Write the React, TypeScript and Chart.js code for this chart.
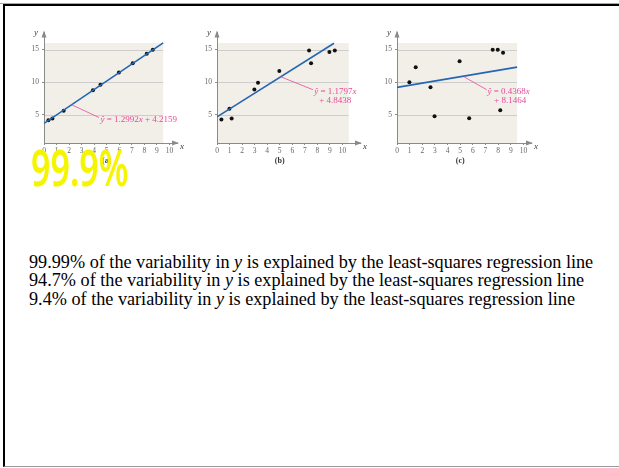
import React, { useEffect, useRef } from "react";
import { Chart, registerables } from "chart.js";

Chart.register(...registerables);

// ---------- data ----------
const xTickValues = [0, 1, 2, 3, 4, 5, 6, 7, 8, 9, 10];
const yTickValues = [5, 10, 15];

const pointsA = [
  { x: 0.35, y: 4.18 }, { x: 0.67, y: 4.43 }, { x: 1.57, y: 5.65 },
  { x: 3.9, y: 8.76 }, { x: 4.5, y: 9.6 }, { x: 5.97, y: 11.5 },
  { x: 7.07, y: 12.9 }, { x: 8.19, y: 14.35 }, { x: 8.67, y: 14.96 },
];
const lineA = [{ x: 0, y: 3.7 }, { x: 9.5, y: 16.0 }];
const equationA = ["ŷ = 1.2992x + 4.2159"];

const pointsB = [
  { x: 0.35, y: 4.3 }, { x: 0.99, y: 5.95 }, { x: 1.17, y: 4.44 },
  { x: 2.98, y: 8.88 }, { x: 3.27, y: 9.9 }, { x: 4.97, y: 11.7 },
  { x: 7.34, y: 14.85 }, { x: 7.5, y: 12.9 }, { x: 8.96, y: 14.6 },
  { x: 9.39, y: 14.85 },
];
const lineB = [{ x: 0, y: 4.7 }, { x: 9.33, y: 15.95 }];
const equationB = ["ŷ = 1.1797x", "+ 4.8438"];

const pointsC = [
  { x: 0.98, y: 10.0 }, { x: 1.48, y: 12.3 }, { x: 2.65, y: 9.24 },
  { x: 2.97, y: 4.8 }, { x: 4.95, y: 13.2 }, { x: 5.71, y: 4.5 },
  { x: 7.57, y: 14.95 }, { x: 7.97, y: 14.95 }, { x: 8.39, y: 14.5 },
  { x: 8.17, y: 5.7 },
];
const lineC = [{ x: 0, y: 9.2 }, { x: 9.5, y: 12.3 }];
const equationC = ["ŷ = 0.4368x", "+ 8.1464"];

const subLabels = ["(a)", "(b)", "(c)"];
const percentages = ["99.99%", "94.7%", "9.4%"];
const handNote = "99.9%";

// ---------- layout / style ----------
const Y_AXIS_W = 22;
const X_AXIS_H = 26;
const PAD_TOP = 6;
const PAD_RIGHT = 12;
const AREA_TOP = 31;
const AREA_BOTTOM = 143;
const Y_MIN = 0.7;
const Y_MAX = 17.6;
const BG_Y_MAX = 16;

const BG = "#f2efe9";
const GRID = "#cdcdcd";
const AXIS = "#8a8a8a";
const TICK = "#666666";
const PINK = "#e8489a";
const BLUE = "#2466b2";
const SERIF = "'Liberation Serif', 'Times New Roman', serif";

type Pt = { x: number; y: number };
type Panel = {
  originX: number;
  pxPerX: number;
  xMax: number;
  bgXMax: number;
  points: Pt[];
  line: Pt[];
  eq: string[];
  anchor: Pt;
  calloutEnd: Pt;
  textPos: Pt[];
  sub: string;
};

const panels: Panel[] = [
  {
    originX: 44, pxPerX: 12.55, xMax: 10.6, bgXMax: 9.5,
    points: pointsA, line: lineA, eq: equationA,
    anchor: { x: 2.2, y: 6.55 }, calloutEnd: { x: 4.38, y: 4.6 },
    textPos: [{ x: 4.5, y: 4.25 }], sub: subLabels[0],
  },
  {
    originX: 217, pxPerX: 12.54, xMax: 11.4, bgXMax: 10.5,
    points: pointsB, line: lineB, eq: equationB,
    anchor: { x: 5.05, y: 10.85 }, calloutEnd: { x: 7.65, y: 8.85 },
    textPos: [{ x: 7.75, y: 8.55 }, { x: 8.15, y: 7.15 }], sub: subLabels[1],
  },
  {
    originX: 397, pxPerX: 12.6, xMax: 10.6, bgXMax: 9.5,
    points: pointsC, line: lineC, eq: equationC,
    anchor: { x: 5.32, y: 10.8 }, calloutEnd: { x: 7.1, y: 8.85 },
    textPos: [{ x: 7.15, y: 8.55 }, { x: 7.68, y: 7.15 }], sub: subLabels[2],
  },
];

function drawRich(ctx: CanvasRenderingContext2D, text: string, x: number, y: number, size: number) {
  const parts = text.split(/(ŷ|x)/).filter((s) => s.length > 0);
  let cx = x;
  for (const p of parts) {
    const it = p === "ŷ" || p === "x";
    ctx.font = `${it ? "italic " : ""}${size}px ${SERIF}`;
    ctx.fillText(p, cx, y);
    cx += ctx.measureText(p).width;
  }
}

function makeDecor(p: Panel) {
  return {
    id: "decor",
    beforeDraw(chart: any) {
      const { ctx } = chart;
      const xs = chart.scales.x;
      const ys = chart.scales.y;
      const l = xs.getPixelForValue(0);
      const r = xs.getPixelForValue(p.bgXMax);
      const t = ys.getPixelForValue(BG_Y_MAX);
      const b = ys.getPixelForValue(Y_MIN);
      ctx.save();
      ctx.fillStyle = BG;
      ctx.fillRect(l, t, r - l, b - t);
      ctx.strokeStyle = GRID;
      ctx.lineWidth = 1;
      for (const v of yTickValues) {
        const py = Math.round(ys.getPixelForValue(v)) + 0.5;
        ctx.beginPath();
        ctx.moveTo(l, py);
        ctx.lineTo(r, py);
        ctx.stroke();
      }
      ctx.restore();
    },
    afterDraw(chart: any) {
      const { ctx, chartArea } = chart;
      const xs = chart.scales.x;
      const ys = chart.scales.y;
      const { left, right, top, bottom } = chartArea;
      ctx.save();
      // arrows
      ctx.fillStyle = AXIS;
      ctx.beginPath();
      ctx.moveTo(right + 2, bottom);
      ctx.lineTo(right - 5, bottom - 2.5);
      ctx.lineTo(right - 5, bottom + 2.5);
      ctx.closePath();
      ctx.fill();
      ctx.beginPath();
      ctx.moveTo(left, top - 2);
      ctx.lineTo(left - 2.5, top + 5);
      ctx.lineTo(left + 2.5, top + 5);
      ctx.closePath();
      ctx.fill();
      // axis names
      ctx.fillStyle = "#444";
      ctx.font = `italic 9px ${SERIF}`;
      ctx.textBaseline = "middle";
      ctx.textAlign = "left";
      ctx.fillText("x", right + 3, bottom + 4);
      ctx.textAlign = "center";
      ctx.fillText("y", left - 8, top);
      // sub label
      ctx.font = `bold 8px ${SERIF}`;
      ctx.fillStyle = "#333";
      ctx.fillText(p.sub, xs.getPixelForValue(5), bottom + 18);
      // callout
      ctx.strokeStyle = PINK;
      ctx.lineWidth = 0.8;
      ctx.beginPath();
      ctx.moveTo(xs.getPixelForValue(p.anchor.x), ys.getPixelForValue(p.anchor.y));
      ctx.lineTo(xs.getPixelForValue(p.calloutEnd.x), ys.getPixelForValue(p.calloutEnd.y));
      ctx.stroke();
      ctx.fillStyle = PINK;
      ctx.textAlign = "left";
      p.eq.forEach((line, i) => {
        const tp = p.textPos[i];
        drawRich(ctx, line, xs.getPixelForValue(tp.x), ys.getPixelForValue(tp.y), 9);
      });
      ctx.restore();
    },
  };
}

function PanelChart({ p }: { p: Panel }) {
  const ref = useRef<HTMLCanvasElement | null>(null);
  const areaW = Math.round(p.xMax * p.pxPerX);
  const width = Y_AXIS_W + areaW + PAD_RIGHT;
  const height = PAD_TOP + (AREA_BOTTOM - AREA_TOP) + X_AXIS_H;
  const left = p.originX - Y_AXIS_W;
  const top = AREA_TOP - PAD_TOP;

  useEffect(() => {
    if (!ref.current) return;
    const chart = new Chart(ref.current, {
      type: "scatter",
      data: {
        datasets: [
          {
            type: "line",
            data: p.line,
            borderColor: BLUE,
            borderWidth: 1.6,
            pointRadius: 0,
            showLine: true,
            fill: false,
          } as any,
          {
            type: "scatter",
            data: p.points,
            backgroundColor: "#111",
            borderWidth: 0,
            pointRadius: 2,
          } as any,
        ],
      },
      options: {
        animation: false,
        responsive: false,
        maintainAspectRatio: false,
        devicePixelRatio: 1,
        layout: { padding: { left: 0, top: PAD_TOP, right: PAD_RIGHT, bottom: 0 } },
        plugins: { legend: { display: false }, tooltip: { enabled: false } },
        events: [],
        scales: {
          x: {
            type: "linear",
            min: 0,
            max: p.xMax,
            afterFit: (s: any) => { s.height = X_AXIS_H; },
            afterBuildTicks: (s: any) => { s.ticks = xTickValues.map((v) => ({ value: v })); },
            grid: { drawOnChartArea: false, drawTicks: true, tickLength: 2, color: AXIS },
            border: { display: true, color: AXIS, width: 1 },
            ticks: {
              font: { family: SERIF, size: 7.5 },
              color: TICK,
              padding: 2,
              maxRotation: 0,
              autoSkip: false,
            },
          },
          y: {
            type: "linear",
            min: Y_MIN,
            max: Y_MAX,
            afterFit: (s: any) => { s.width = Y_AXIS_W; },
            afterBuildTicks: (s: any) => { s.ticks = yTickValues.map((v) => ({ value: v })); },
            grid: { drawOnChartArea: false, drawTicks: true, tickLength: 2, color: AXIS },
            border: { display: true, color: AXIS, width: 1 },
            ticks: {
              font: { family: SERIF, size: 7.5 },
              color: TICK,
              padding: 3,
              autoSkip: false,
            },
          },
        },
      } as any,
      plugins: [makeDecor(p)],
    });
    return () => chart.destroy();
  }, [p]);

  return (
    <canvas
      ref={ref}
      width={width}
      height={height}
      style={{ position: "absolute", left, top, width, height }}
    />
  );
}

export default function App() {
  return (
    <div style={{ position: "absolute", left: 0, top: 0, width: 619, height: 468, overflow: "hidden", background: "#fff" }}>
      <div style={{ position: "absolute", left: 0, top: 3, width: 619, height: 1, background: "#a8a8a8" }} />
      <div
        style={{
          position: "absolute", left: 3, top: 4, width: 616, height: 463,
          boxSizing: "border-box",
          borderLeft: "2px solid #000", borderTop: "2px solid #000", borderBottom: "1px solid #999",
        }}
      />
      {panels.map((p, i) => (
        <PanelChart key={i} p={p} />
      ))}
      <div
        style={{
          position: "absolute", left: 31, top: 142, fontFamily: "'Noto Sans', sans-serif",
          fontWeight: 600, fontSize: 50, lineHeight: "50px", color: "#f5f500",
          transform: "scaleX(0.68)", transformOrigin: "left top", whiteSpace: "nowrap",
        }}
      >
        {handNote}
      </div>
      <div
        style={{
          position: "absolute", left: 29, top: 252.6, fontFamily: SERIF,
          fontSize: 18.2, lineHeight: "18.5px", color: "#000", whiteSpace: "nowrap",
        }}
      >
        {percentages.map((pc, i) => (
          <div key={i}>
            {pc} of the variability in <i>y</i> is explained by the least-squares regression line
          </div>
        ))}
      </div>
    </div>
  );
}
